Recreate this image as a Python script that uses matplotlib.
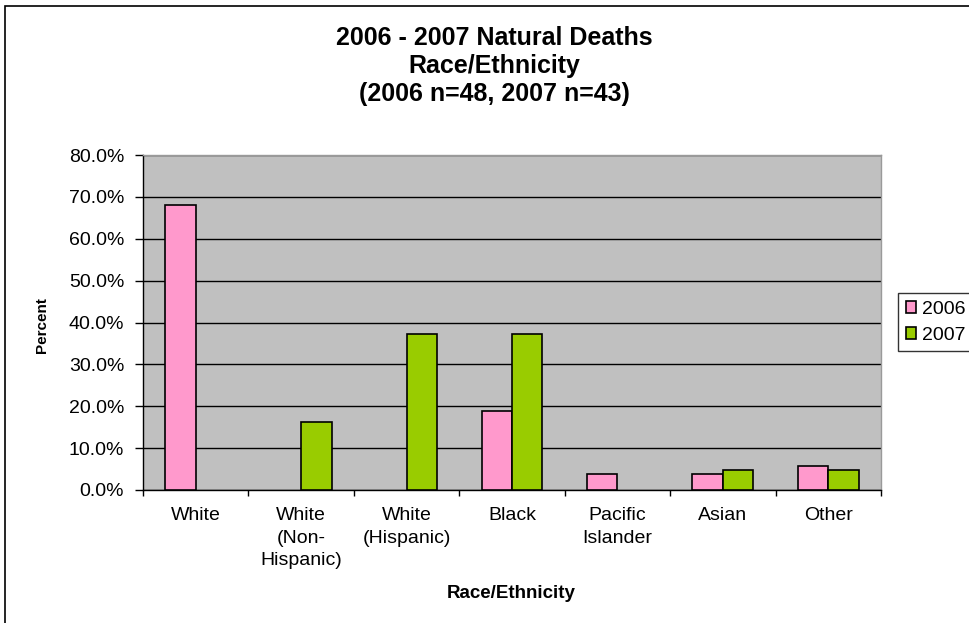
import numpy as np
import matplotlib
matplotlib.use("Agg")
import matplotlib.pyplot as plt
import matplotlib.ticker as mtick
from matplotlib.patches import Rectangle

plt.rcParams['font.family'] = ['Liberation Sans', 'DejaVu Sans']

# Data (fractions), nan = no bar
categories = ["White", "White\n(Non-\nHispanic)", "White\n(Hispanic)", "Black",
              "Pacific\nIslander", "Asian", "Other"]
deaths_2006 = [0.681, np.nan, np.nan, 0.188, 0.039, 0.039, 0.058]
deaths_2007 = [np.nan, 0.163, 0.372, 0.372, np.nan, 0.047, 0.047]
series_names = ["2006", "2007"]
y_ticks = [0.0, 0.1, 0.2, 0.3, 0.4, 0.5, 0.6, 0.7, 0.8]

PINK = "#FF99CC"
GREEN = "#99CC00"
W = 0.289

fig = plt.figure(figsize=(9.69, 6.23), dpi=100)
ax = fig.add_axes([143/969, 1 - 490/623, (881-143)/969, (490-155)/623])
ax.set_facecolor("#C0C0C0")

x = np.arange(len(categories))
for vals, off, col, name in [(deaths_2006, -W/2, PINK, series_names[0]),
                             (deaths_2007, W/2, GREEN, series_names[1])]:
    v = np.array(vals, dtype=float)
    ok = np.isfinite(v)
    ax.bar(x[ok] + off, v[ok], width=W, color=col, edgecolor="black",
           linewidth=1.2, zorder=3, label=name)

ax.set_xlim(-0.5, len(categories) - 0.5)
ax.set_ylim(0, 0.8)
ax.set_yticks(y_ticks)
ax.yaxis.set_major_formatter(mtick.PercentFormatter(xmax=1, decimals=1))
ax.grid(axis="y", color="black", linewidth=1, zorder=1)

# ticks between categories, labels at centres
ax.set_xticks(np.arange(len(categories) + 1) - 0.5)
ax.set_xticklabels([])
ax.set_xticks(x, minor=True)
ax.set_xticklabels(categories, minor=True, fontsize=14, linespacing=1.45)
ax.tick_params(axis="x", which="major", direction="out", length=4, width=1)
ax.tick_params(axis="x", which="minor", length=0, pad=12)
ax.tick_params(axis="y", direction="out", length=6, width=1, pad=7.5, labelsize=14)

for s in ["top", "right"]:
    ax.spines[s].set_color("#9a9a9a")
    ax.spines[s].set_linewidth(1)
for s in ["left", "bottom"]:
    ax.spines[s].set_color("black")
    ax.spines[s].set_linewidth(1)

fig.text(42/969, 1 - 325/623, "Percent", rotation=90, ha="center", va="center",
         fontsize=11, fontweight="bold")
fig.text(511/969, 1 - 593/623, "Race/Ethnicity", ha="center", va="center",
         fontsize=13.5, fontweight="bold")
fig.text(494/969, 1 - 66/623,
         "2006 - 2007 Natural Deaths\nRace/Ethnicity\n(2006 n=48, 2007 n=43)",
         ha="center", va="center", fontsize=18, fontweight="bold", linespacing=1.2)

leg = fig.legend(loc="upper left", bbox_to_anchor=(898/969, 1 - 293/623),
                 fontsize=14, fancybox=False, frameon=True, edgecolor="black",
                 handlelength=0.55, handleheight=0.55, handletextpad=0.3,
                 borderpad=0.4, labelspacing=0.45, borderaxespad=0)
leg.get_frame().set_linewidth(1)

# outer chart border (runs off right and bottom edges)
fig.patches.append(Rectangle((5/969, -0.1), 2, 1.1 - 6/623, transform=fig.transFigure,
                             fill=False, edgecolor="black", linewidth=1.2))

fig.savefig("out.png", dpi=100)
